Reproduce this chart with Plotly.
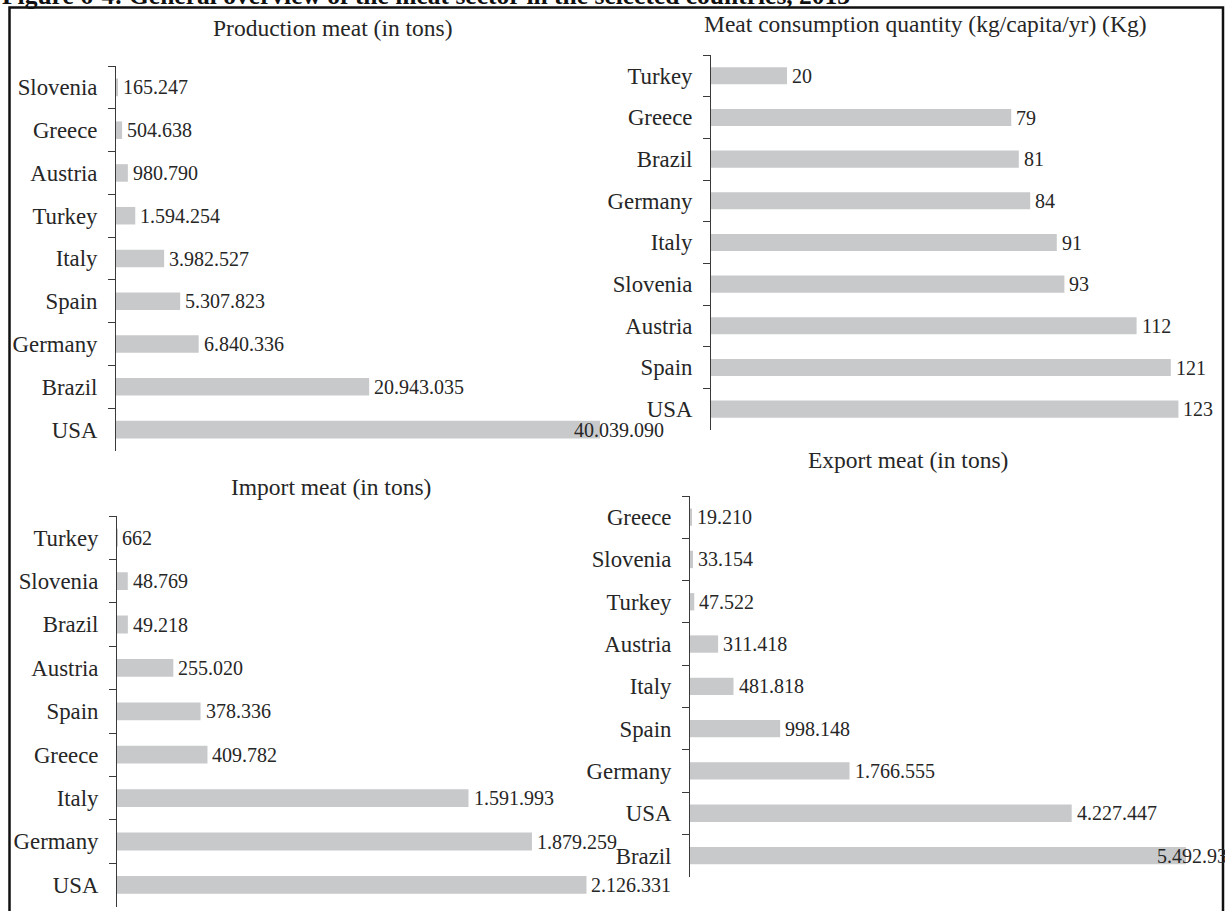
import plotly.graph_objects as go

# ---- data -------------------------------------------------------------
prod_countries = ["Slovenia", "Greece", "Austria", "Turkey", "Italy", "Spain", "Germany", "Brazil", "USA"]
prod_values = [165247, 504638, 980790, 1594254, 3982527, 5307823, 6840336, 20943035, 40039090]

cons_countries = ["Turkey", "Greece", "Brazil", "Germany", "Italy", "Slovenia", "Austria", "Spain", "USA"]
cons_values = [20, 79, 81, 84, 91, 93, 112, 121, 123]

imp_countries = ["Turkey", "Slovenia", "Brazil", "Austria", "Spain", "Greece", "Italy", "Germany", "USA"]
imp_values = [662, 48769, 49218, 255020, 378336, 409782, 1591993, 1879259, 2126331]

exp_countries = ["Greece", "Slovenia", "Turkey", "Austria", "Italy", "Spain", "Germany", "USA", "Brazil"]
exp_values = [19210, 33154, 47522, 311418, 481818, 998148, 1766555, 4227447, 5492937]

titles = [
    "Production meat (in tons)",
    "Meat consumption quantity (kg/capita/yr) (Kg)",
    "Import meat (in tons)",
    "Export meat (in tons)",
]
header = "Figure 6-4: General overview of the meat sector in the selected countries, 2013"

# ---- page geometry (pixels) ------------------------------------------
W, H = 1225, 911
FONT = "Liberation Serif"
BAR = "#C8C9CB"
AXIS = "#3a3a3a"
TEXT = "#262626"


def px_x(p):
    return p / W


def px_y(p):
    return 1 - p / H


# panel geometry: axis left/right px, top/bottom px, x range max, title centre
panels = [
    dict(cats=prod_countries, vals=prod_values, x0=116, x1=666, y0=66, y1=451,
         xmax=45.5e6, tx=333, ty=28),
    dict(cats=cons_countries, vals=cons_values, x0=711, x1=1205, y0=55, y1=430,
         xmax=130, tx=925, ty=24),
    dict(cats=imp_countries, vals=imp_values, x0=117, x1=669, y0=516, y1=906.6,
         xmax=2.5e6, tx=331, ty=487),
    dict(cats=exp_countries, vals=exp_values, x0=690, x1=1213.7, y0=496, y1=876.7,
         xmax=5.8e6, tx=908, ty=460),
]

# labels that cannot sit past the bar end are pulled back over the bar
label_nudge = {(0, "USA"): -31, (3, "Brazil"): -34}


def fmt(v):
    return f"{v:,}".replace(",", ".")


fig = go.Figure()
annotations = []
layout_axes = {}

for i, p in enumerate(panels):
    n = "" if i == 0 else str(i + 1)
    xa, ya = "x" + n, "y" + n
    fig.add_trace(go.Bar(
        x=p["vals"], y=p["cats"], orientation="h",
        marker=dict(color=BAR, line=dict(width=0)),
        width=0.41, xaxis=xa, yaxis=ya, showlegend=False, hoverinfo="skip",
    ))
    layout_axes["xaxis" + n] = dict(
        domain=[px_x(p["x0"]), px_x(p["x1"])], range=[0, p["xmax"]],
        visible=False, anchor=ya, fixedrange=True,
    )
    layout_axes["yaxis" + n] = dict(
        domain=[px_y(p["y1"]), px_y(p["y0"])], anchor=xa,
        type="category", categoryorder="array", categoryarray=p["cats"],
        range=[8.5, -0.5], showline=True, linecolor=AXIS, linewidth=1,
        ticks="outside", tickson="boundaries", ticklen=7, tickcolor=AXIS,
        tickwidth=1, ticklabelstandoff=13,
        tickfont=dict(family=FONT, size=22.8, color=TEXT),
        showgrid=False, zeroline=False, fixedrange=True,
    )
    for c, v in zip(p["cats"], p["vals"]):
        annotations.append(dict(
            x=v, y=c, xref=xa, yref=ya, text=fmt(v), showarrow=False,
            xanchor="left", yanchor="middle",
            xshift=3 + label_nudge.get((i, c), 0),
            font=dict(family=FONT, size=20, color=TEXT),
        ))
    annotations.append(dict(
        x=px_x(p["tx"]), y=px_y(p["ty"]), xref="paper", yref="paper",
        text=titles[i], showarrow=False, xanchor="center", yanchor="middle",
        font=dict(family=FONT, size=23.5, color=TEXT),
    ))

# figure caption above the frame
annotations.append(dict(
    x=0, y=px_y(-4.5), xref="paper", yref="paper", text="<b>" + header + "</b>",
    showarrow=False, xanchor="left", yanchor="middle",
    font=dict(family=FONT, size=25.5, color="#111111"),
))

shapes = [dict(
    type="rect", xref="paper", yref="paper",
    x0=px_x(9.5), x1=px_x(1223), y0=px_y(930), y1=px_y(7.5),
    line=dict(color="#111111", width=2.5), fillcolor="rgba(0,0,0,0)",
    layer="below",
)]

fig.update_layout(
    width=W, height=H,
    margin=dict(l=0, r=0, t=0, b=0),
    paper_bgcolor="white", plot_bgcolor="rgba(0,0,0,0)",
    annotations=annotations, shapes=shapes,
    font=dict(family=FONT, color=TEXT),
    **layout_axes,
)

fig.write_html("out.html", config={"displayModeBar": False})
